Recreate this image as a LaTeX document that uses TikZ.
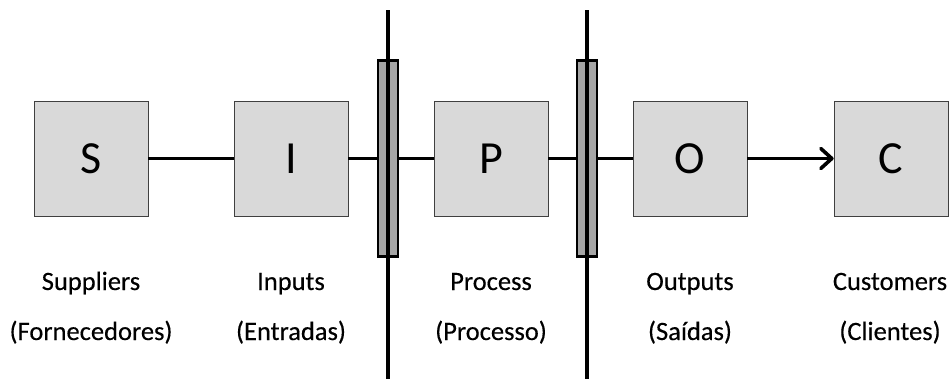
\documentclass[tikz,border=0pt]{standalone}
\usepackage{fontspec}
\setmainfont{Carlito}
\newfontfamily\captionfont[FakeBold=0.35]{Carlito}
\usetikzlibrary{arrows.meta}
\definecolor{boxfill}{HTML}{D9D9D9}
\definecolor{barfill}{HTML}{A6A6A6}
\definecolor{boxline}{HTML}{404040}
\begin{document}
\begin{tikzpicture}[x=1pt,y=-1pt,
  stagebox/.style={draw=boxline,line width=0.8pt,fill=boxfill,minimum width=114pt,minimum height=115pt,inner sep=0pt,font=\fontsize{46}{50}\selectfont},
  gatebar/.style={draw=black,line width=2.5pt,fill=barfill,minimum width=20pt,minimum height=196pt,inner sep=0pt},
  caption/.style={font=\captionfont\fontsize{26.5}{30}\selectfont,anchor=base,inner sep=0pt},
  link/.style={line width=3.6pt},
  wall/.style={line width=3.8pt}]
\useasboundingbox (0,0) rectangle (949,383);
% stages
\node[stagebox] (s) at (91,158.5) {S};
\node[stagebox] (i) at (291,158.5) {I};
\node[stagebox] (p) at (491,158.5) {P};
\node[stagebox] (o) at (690,158.5) {O};
\node[stagebox] (c) at (891,158.5) {C};
% boundaries of the process
\coordinate (w1t) at (388,10);
\coordinate (w1b) at (388,379);
\coordinate (w2t) at (587,10);
\coordinate (w2b) at (587,379);
\node[gatebar] (g1) at (388,158.5) {};
\node[gatebar] (g2) at (587,158.5) {};
% flow
\draw[link] (s.east) -- (i.west);
\draw[link] (i.east) -- (g1.west);
\draw[link] (g1.east) -- (p.west);
\draw[link] (p.east) -- (g2.west);
\draw[link] (g2.east) -- (o.west);
\draw[link,-{Straight Barb[length=11pt,width=20pt,round]}] (o.east) -- (c.west);
\draw[wall] (w1t) -- (w1b);
\draw[wall] (w2t) -- (w2b);
% captions
\node[caption] (ls1) at (91,290) {Suppliers};
\node[caption] (ls2) at (91,340) {(Fornecedores)};
\node[caption] (li1) at (291,290) {Inputs};
\node[caption] (li2) at (291,340) {(Entradas)};
\node[caption] (lp1) at (491,290) {Process};
\node[caption] (lp2) at (491,340) {(Processo)};
\node[caption] (lo1) at (690,290) {Outputs};
\node[caption] (lo2) at (690,340) {(Saídas)};
\node[caption] (lc1) at (890,290) {Customers};
\node[caption] (lc2) at (890,340) {(Clientes)};
\end{tikzpicture}
\end{document}
